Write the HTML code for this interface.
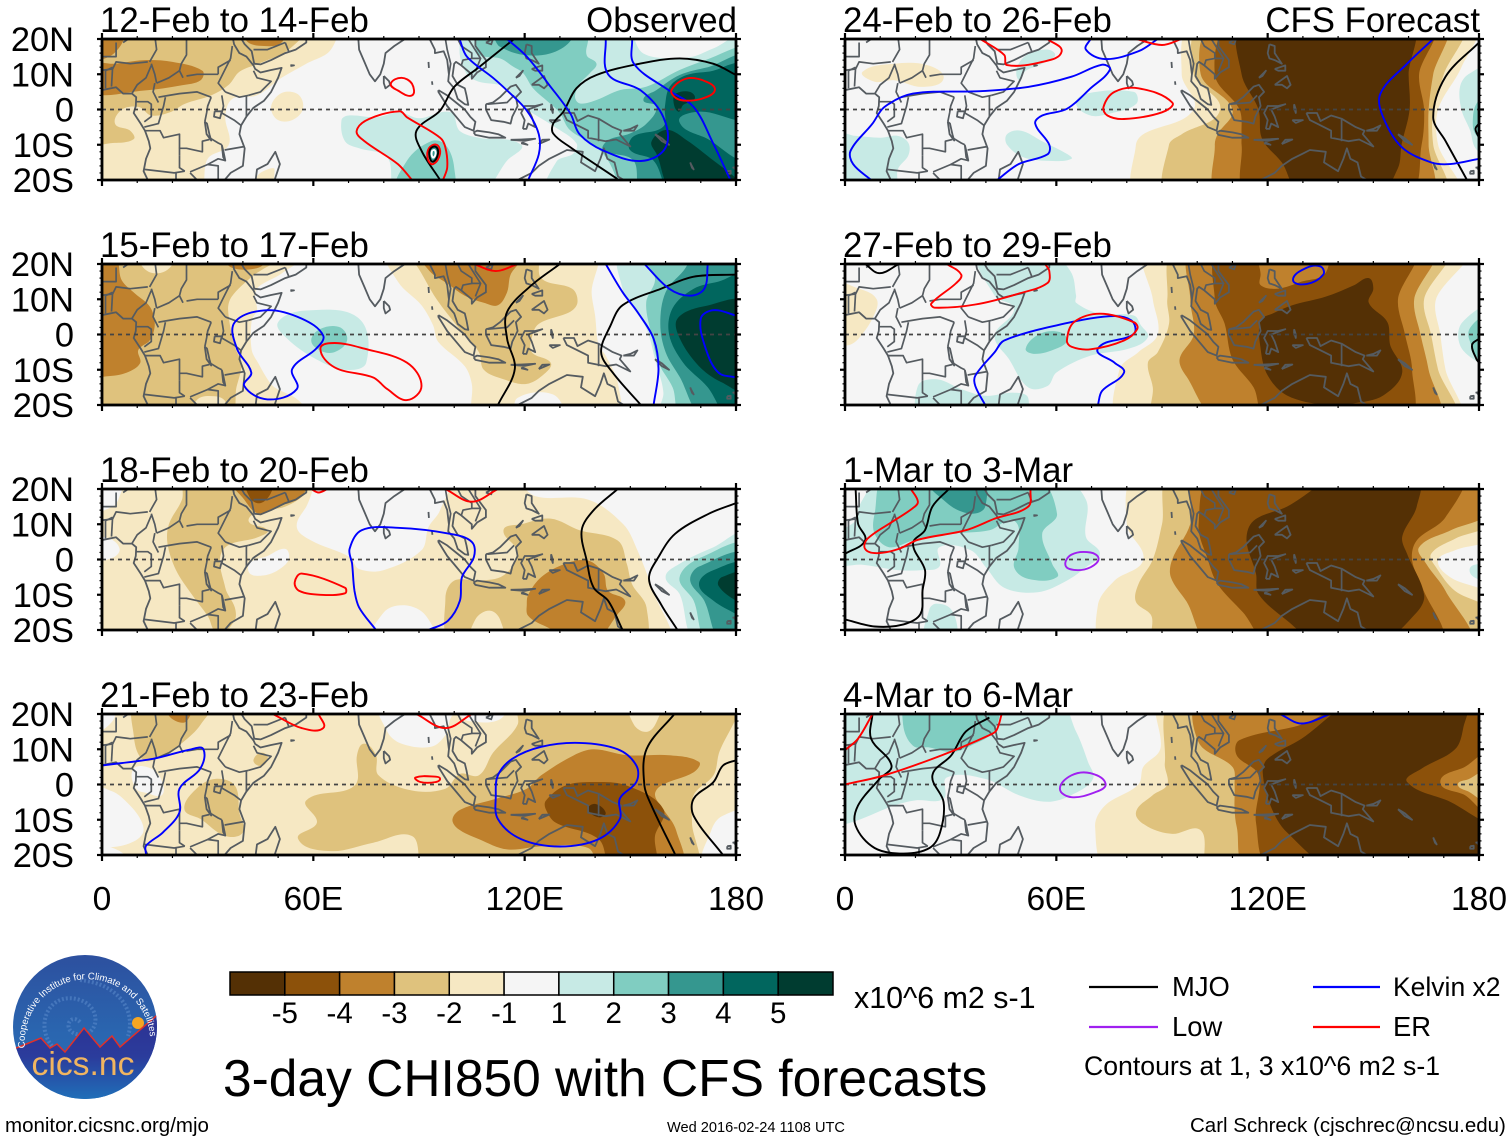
<!DOCTYPE html>
<html lang="en">
<head>
<meta charset="utf-8">
<title>3-day CHI850 with CFS forecasts</title>
<style>
html,body{margin:0;padding:0;background:#fff}
svg{display:block}
text{font-family:"Liberation Sans",Arial,sans-serif;fill:#000}
</style>
</head>
<body>
<svg id="chart" xmlns="http://www.w3.org/2000/svg" width="1510" height="1142" viewBox="0 0 1510 1142">
  <rect x="0" y="0" width="1510" height="1142" fill="#fff"/>
  <g id="panels"></g>
  <g id="colorbar"></g>

  <text x="854" y="1008" font-size="30.4">x10^6 m2 s-1</text>
  <text x="223" y="1096" font-size="51.5">3-day CHI850 with CFS forecasts</text>

  <g>
    <line x1="1089" y1="987" x2="1158" y2="987" stroke="#000" stroke-width="2.2"/>
    <text x="1172" y="996" font-size="27.4">MJO</text>
    <line x1="1313" y1="987" x2="1380" y2="987" stroke="#0000ff" stroke-width="2.2"/>
    <text x="1393" y="996" font-size="26.5">Kelvin x2</text>
    <line x1="1089" y1="1027" x2="1158" y2="1027" stroke="#a020f0" stroke-width="2.2"/>
    <text x="1172" y="1036" font-size="27.4">Low</text>
    <line x1="1313" y1="1027" x2="1380" y2="1027" stroke="#ff0000" stroke-width="2.2"/>
    <text x="1393" y="1036" font-size="27.4">ER</text>
    <text x="1084" y="1075" font-size="26.65">Contours at 1, 3 x10^6 m2 s-1</text>
  </g>

  <g>
    <defs>
      <clipPath id="logo-clip"><ellipse cx="85" cy="1027" rx="72" ry="72"/></clipPath>
      <linearGradient id="logo-sky" x1="0" y1="0" x2="0" y2="1">
        <stop offset="0" stop-color="#2d4f9e"/>
        <stop offset="0.55" stop-color="#2a66b0"/>
        <stop offset="1" stop-color="#2a70b8"/>
      </linearGradient>
      <linearGradient id="logo-land" x1="0" y1="0" x2="0" y2="1">
        <stop offset="0" stop-color="#2e3192"/>
        <stop offset="0.5" stop-color="#2b3c9c"/>
        <stop offset="1" stop-color="#1f72ba"/>
      </linearGradient>
      <path id="logo-ring" d="M 25 1048 A 62 62 0 1 1 150 1036"/>
    </defs>
    <g clip-path="url(#logo-clip)">
      <rect x="10" y="952" width="150" height="150" fill="url(#logo-sky)"/>
      <path d="M80 1022 C70 1012 62 1030 76 1034 C98 1040 104 1008 80 1000 C50 990 34 1024 52 1046 M80 980 C120 984 136 1012 128 1036" fill="none" stroke="#5f8fd0" stroke-width="4" stroke-dasharray="2 2" opacity="0.5"/>
      <circle cx="138" cy="1023" r="6" fill="#f5a623"/>
      <polygon points="10,1050 19,1047 41,1038 50,1048 57,1044 65,1052 84,1028 100,1047 112,1036 120,1047 155,1017 160,1012 160,1102 10,1102" fill="url(#logo-land)" stroke="#e0302a" stroke-width="1.5"/>
    </g>
    <text font-size="9.6" fill="#ffffff" style="fill:#fff"><textPath href="#logo-ring">Cooperative Institute for Climate and Satellites</textPath></text>
    <text x="83" y="1075" font-size="33.7" text-anchor="middle" style="fill:#f1b560">cics.nc</text>
  </g>

  <text x="5" y="1132" font-size="20.5">monitor.cicsnc.org/mjo</text>
  <text x="667" y="1132" font-size="14.6">Wed 2016-02-24 1108 UTC</text>
  <text x="1190" y="1132" font-size="20.5">Carl Schreck (cjschrec@ncsu.edu)</text>
</svg>

<script>
// ---- labels -------------------------------------------------------------
const panelTitles = ['12-Feb to 14-Feb','15-Feb to 17-Feb','18-Feb to 20-Feb','21-Feb to 23-Feb','24-Feb to 26-Feb','27-Feb to 29-Feb','1-Mar to 3-Mar','4-Mar to 6-Mar'];
const panelNotes = ['Observed','','','','CFS Forecast','','',''];
const latTicks = [20,10,0,-10,-20];
const latTickLabels = ['20N','10N','0','10S','20S'];
const lonTicks = [0,60,120,180];
const lonTickLabels = ['0','60E','120E','180'];
const colorbarLabels = ['-5','-4','-3','-2','-1','1','2','3','4','5'];
const levelColors = ['#543005','#8c510a','#bf812d','#dfc27d','#f6e8c3','#f5f5f5','#c7eae5','#80cdc1','#35978f','#01665e','#003c30'];

// ---- shaded CHI850 regions per panel: [level, [[lon,lat],...]] -----------
const fills1 = [
 [-1,[[-4,24],[66,24],[65,17],[58,13],[51,9],[44,4],[37,3],[35,-2],[36,-10],[30,-14],[27,-24],[-4,-24]]],
 [-1,[[48,0],[49,3],[52,5],[56,4],[57,0],[54,-3],[50,-3]]],
 [-1,[[43,-24],[44,-19],[47,-17],[49,-17],[47,-24]]],
 [-2,[[-4,24],[58,24],[53,17],[44.5,13],[39,10.7],[36,7],[31,4],[23.5,1.6],[19.3,-.8],[14,-1.7],[10.5,.7],[5.7,0],[3.7,-4],[8,-6],[9,-8.4],[3,-9.5],[-4,-9]]],
 [-3,[[-4,5],[12,5.4],[22.7,6.9],[28,8.3],[28.5,11],[20,13.5],[12,14],[3.7,13],[-4,12.5]]],
 [-3,[[-4,24],[6,24],[3.5,16],[-4,15]]],
 [-3,[[41,24],[41,19.5],[46,18],[51,19],[52,24]]],
 [1,[[104,24],[101.5,17],[103.6,10],[107,7.9],[114,6.5],[119.6,.8],[128.5,-4.9],[134.7,-9.6],[133.8,-12.5],[129,-14.8],[126.7,-24],[184,-24],[184,21],[173.5,17.3],[167.8,15],[160.3,14.5],[153.7,15.9],[151.3,19.7],[151,24]]],
 [1,[[68,-3],[70,-1.7],[78,-2.2],[84.5,-.8],[90,-2.5],[99,-.8],[101.5,-6],[107,-8],[119,-10],[115,-14.5],[107,-24],[84,-24],[81,-13.6],[73,-11],[69,-9]]],
 [2,[[107.3,24],[106,18],[107.3,15.4],[113,14.5],[116.8,12.1],[119.6,10.3],[122.4,6],[127.2,1.7],[130,-1],[132.8,-5.8],[139.5,-10],[143.3,-13.9],[146,-19.5],[147,-24],[184,-24],[184,19],[179.2,17.3],[172.6,14.5],[164,11.2],[154.6,6.5],[147,5.5],[140.4,2.7],[135.7,1.7],[134.3,3.6],[135.7,7.4],[138.5,10.3],[140.4,13],[137.6,15.4],[138,19.7],[138,24]]],
 [2,[[84,-24],[86.6,-14.5],[93.4,-9],[97.5,-10],[100,-16.5],[99,-24]]],
 [3,[[110,24],[111.6,19.7],[113,17.8],[119.6,15.5],[127.2,15.9],[132.8,19.2],[134,24]]],
 [3,[[184,14.5],[172,12],[164,9.8],[157.4,5.5],[153.7,2.7],[157.4,.8],[154.6,-4],[149.9,-6.8],[143.7,-8.7],[142.3,-11.5],[150.8,-14.4],[153.7,-24],[184,-24]]],
 [3,[[93,-11],[95,-10],[96,-12],[94.5,-15],[93,-14]]],
 [4,[[184,13.5],[179,13],[173.5,11],[166,9.8],[161.2,6.5],[159.8,.8],[159.3,-4.9],[150.8,-7.7],[149.9,-11.5],[156.5,-14.4],[162.2,-24],[184,-24]]],
 [3,[[163.9,-3.5],[169.7,-.6],[180,-3],[184,-4],[184,-15],[180,-13.9],[172.6,-8.7]]],
 [5,[[162.2,2.7],[163.1,4.6],[166.9,5],[168.3,3.1],[165,1.3],[163.6,-.6]]],
 [5,[[160.3,-5.8],[166,-8.7],[173.5,-14.4],[180,-19.5],[184,-24],[163,-24],[157.4,-12.5],[156,-9.1]]]
];
const fills2 = [
 [-1,[[-4,24],[58.5,24],[51,17.3],[44.4,13.5],[43.4,10.7],[44,7],[42.5,4],[42.5,-4.4],[44.4,-8.2],[47.2,-13],[49,-15],[55.7,-18.6],[59,-24],[-4,-24]]],
 [-2,[[-4,24],[54,24],[45.3,18.3],[42.5,16.4],[36.8,10.7],[35.8,6.9],[37.7,-3.5],[39.6,-8.2],[38.2,-14.9],[35.8,-24],[-4,-24]]],
 [-1,[[10.3,24],[11,20],[14,17.5],[18,18],[20.7,21],[21,24]]],
 [-1,[[26,-24],[27,-18.5],[32,-17.5],[35,-19],[35,-24]]],
 [-3,[[-4,24],[3.7,22],[5.6,15.4],[9.4,11.6],[13.6,7.9],[15,3.1],[13.6,-1.6],[10.3,-4.4],[10.8,-8.2],[6.5,-11],[.4,-12],[-4,-12.5]]],
 [-3,[[34,24],[35.5,20],[38,18.6],[43,18.6],[46,20],[47,24]]],
 [-1,[[81,24],[84,15],[90.7,8.3],[94,2.6],[95.4,-2],[103,-9],[105,-14],[106,-24],[116,-24],[118,-18],[128,-17],[134,-24],[146,-24],[146.5,-14],[143,-6],[141,-3],[140,5.4],[139,12],[139.6,24]]],
 [-2,[[85,24],[89,20],[95,10],[101.5,1.6],[107,-5],[108.4,-10],[114,-12.7],[120.6,-14],[126,-10.8],[127.4,-8],[122,-5],[122,-1],[124,3],[133,6.5],[135,9.2],[133.5,13],[124.7,16],[123,24]]],
 [-3,[[90,24],[93,18],[98,14.5],[103,11],[108.4,9],[112.4,8.3],[115,12],[116,17],[120,24]]],
 [1,[[50,3.5],[58,6.8],[73,4.5],[75,-8],[69,-10],[60.8,-7],[52.6,-1.2]]],
 [2,[[59.4,-1.7],[62,1.6],[67.6,2],[69.6,-1.7],[66,-5],[62,-4.6]]],
 [1,[[147.8,24],[148,12],[150.5,8],[154.6,1.6],[157,-7],[159.4,-16.5],[158.5,-24],[184,-24],[184,24]]],
 [2,[[153,24],[157,16],[154.5,9],[156,0],[158,-8],[162,-15],[165,-24],[184,-24],[184,24]]],
 [3,[[170,24],[165,18],[160,12],[158.5,3],[160,-5],[164,-12],[171,-24],[184,-24],[184,24]]],
 [4,[[184,17],[175,15],[168,13],[162,7.5],[161,0],[165,-8],[172,-15],[178,-24],[184,-24]]],
 [5,[[184,8.5],[171,8],[163.4,4.5],[164,-1],[169.5,-9],[176,-13.6],[184,-16]]]
];
const fills3 = [
 [-1,[[-4,24],[115,24],[123,18],[138,17],[148,10],[152,2.6],[156,-8],[160,-24],[-4,-24]]],
 [0,[[-4,24],[6,24],[5,18],[3,15],[-4,14]]],
 [0,[[-4,6],[2,6],[5,3],[3,.5],[-4,0]]],
 [0,[[63.5,24],[58,15],[55.3,9.2],[59.4,5.4],[70.3,.7],[73,-2.7],[80,-3],[90.7,2.6],[92.7,9.2],[96,14],[98,24]]],
 [0,[[42,-1],[47,1],[52,3],[53,0],[50,-3],[46,-4.5],[42,-4]]],
 [0,[[77,-24],[80,-15],[86,-13],[92,-16],[94,-24]]],
 [-2,[[24,24],[22.7,17],[19,10],[18.6,4.5],[21,-3],[25.4,-9.8],[30,-16],[33,-21],[37.6,-17.4],[37.7,-13.6],[35,-8],[34.3,2.6],[44.5,6.4],[47,8.3],[41.7,10.7],[44,13.5],[52,15],[58,19],[60,24]]],
 [-3,[[36.3,24],[40.4,17],[44.5,13],[50,15],[56.7,18],[58,24]]],
 [-4,[[41,24],[42,17.5],[45,16],[48,19],[48.5,24]]],
 [-2,[[100,-24],[97.5,-11],[100,-6],[107,-6],[114,-4.5],[118,2],[114,8.3],[119,10],[127.4,11.6],[135.6,8.3],[146.4,5.4],[149,-1.2],[150.5,-7],[154.6,-13.6],[153,-24]]],
 [-1,[[105,-24],[106,-17],[110,-14.5],[113,-17],[113.5,-24]]],
 [-3,[[120.6,-12.7],[121,-10],[124.7,-5],[131.5,-1.2],[138,-.3],[142.4,-4],[143.7,-8.9],[148.5,-11.7],[146.4,-15.5],[138.3,-24],[126,-19],[121,-16]]],
 [1,[[184,7.3],[173.6,3.5],[164,-1.2],[160,-5],[164,-9.8],[169,-24],[184,-24]]],
 [2,[[184,3.5],[171,1],[164,-5],[168,-11.7],[172.3,-24],[184,-24]]],
 [3,[[184,.7],[169.5,-2],[167,-6],[171,-11.7],[176,-24],[184,-24]]],
 [4,[[184,-1.7],[173.6,-3],[169.5,-7],[173.6,-11.7],[180,-15.5],[184,-18]]],
 [5,[[184,-4],[176,-5],[175,-7.4],[180,-11.7],[184,-13]]]
];
const fills4 = [
 [-1,[[-4,24],[184,24],[184,-24],[-4,-24]]],
 [0,[[-4,24],[3,24],[3,18],[-4,15]]],
 [0,[[-4,-1],[3,-2],[7,-5],[11,-10],[11.5,-14],[7,-17],[0,-18],[-4,-18]]],
 [0,[[9,4.5],[14,4.5],[17,1],[17,-3],[13,-2.5],[9.5,-1]]],
 [0,[[-4,-24],[-4,-17.5],[3,-18],[7.5,-21],[8,-24]]],
 [0,[[79,24],[81,15],[85,11.6],[93.4,10.7],[97.5,14],[100,20],[104,18],[113,18.5],[115,24]]],
 [0,[[184,-8],[176,-9],[173,-13],[171,-24],[184,-24]]],
 [-2,[[10,24],[9,14],[11.7,7],[17,8],[23,12],[28,17],[31,24]]],
 [-2,[[23.4,-7],[26.8,-1.2],[32.2,1.6],[37.7,-.3],[39,-8],[40,-13.6],[35,-14.6],[28,-9.8]]],
 [-2,[[43,7],[45,9],[47,8],[46,5.5],[44,5.5]]],
 [-2,[[58,-4.5],[71.7,-.3],[72.4,8.3],[74.4,11.6],[77.8,8.3],[78.5,2.6],[88,-1.7],[97.5,-1.2],[101.6,3],[107,2.6],[111,9],[118,17],[118,24],[179,24],[175,8.3],[173.6,2.6],[168,-3],[167.5,-10.8],[168,-24],[92,-24],[88,-14.6],[77,-16.5],[65,-18.9],[55.7,-15.5],[61,-10.8]]],
 [-1,[[150,24],[151,17],[155,15],[158,19],[159,24]]],
 [-3,[[18,24],[19,19.5],[23,17.5],[25,19.5],[26,24]]],
 [-3,[[99.5,-9.8],[102,-7],[112,-4],[120.6,-1.2],[124.7,2.6],[134,8.3],[139.6,10],[149,8.3],[161,8.3],[169.5,6.4],[168,3.5],[158.7,-.3],[157,-3],[159.4,-7],[163,-13],[164,-24],[142,-24],[138,-18],[125,-17.5],[115,-18.4],[107,-15.5],[101,-12.5]]],
 [-4,[[126,-4.6],[131.5,-.3],[139.6,.7],[149,-.3],[159.4,-7],[157,-14.6],[156.6,-24],[145,-24],[141,-15.5],[128.8,-10.8],[126,-7]]],
 [-5,[[138,-7],[140,-5.5],[143,-8],[141,-9.3]]]
];
const fills5 = [
 [1,[[-4,-7],[3,-7.5],[10,-8],[15,-7.5],[18,-9.5],[18,-13],[15,-17],[14,-24],[-4,-24]]],
 [1,[[46,-7],[50,-6],[56,-9],[63,-12.6],[64.3,-14],[59,-14.6],[50.7,-13.6],[46,-10]]],
 [1,[[65.6,1.6],[68.4,4.5],[82,5],[82.7,1.6],[75,-1.2],[69.7,-1.7]]],
 [1,[[49.3,13],[53.4,16.4],[59.5,16],[56,13],[51.3,11],[49.3,8.4]]],
 [-1,[[5,10.7],[14,13],[23.4,12.6],[28,8.8],[22,6.4],[14,8.3],[8.4,7.9]]],
 [-1,[[99,24],[95.6,10],[99,0],[84.7,-7],[82.6,-10],[83.3,-24],[173.5,-24],[168.4,-10],[168.4,0],[175,12],[178.6,24]]],
 [-2,[[101.7,24],[99,10],[106.5,0],[95.6,-7],[92,-10],[92.2,-24],[169.8,-24],[167,-10],[167,0],[170,10],[174.6,24]]],
 [-3,[[105,24],[101,10],[110,0],[105.8,-7],[105,-10],[106.5,-24],[165.7,-24],[165.7,-10],[165.7,0],[167,10],[169.8,24]]],
 [-4,[[110,24],[105,10],[112,0],[112.6,-7],[112.6,-10],[114.6,-24],[159.6,-24],[163.7,-10],[164.4,0],[163,10],[166.4,24]]],
 [-5,[[113.3,24],[112.6,10],[117.4,0],[118,-7],[119.4,-10],[124,-15],[129.6,-24],[151.4,-24],[157,-16.6],[158,-10],[160.3,0],[160,10],[160.3,24]]],
 [1,[[184,12],[177,10],[174.6,6.4],[175,0],[177.5,-6],[179,-11],[184,-15]]],
 [2,[[184,6],[179.5,2],[178.3,-2],[179,-7],[184,-10]]]
];
const fills6 = [
 [-1,[[-4,14],[4,13],[9,10],[8,5],[4,-1],[1,-3],[-4,-2.5]]],
 [1,[[38.4,24],[42.5,11],[48,7.3],[42.5,-.3],[46.6,-7],[52,-15],[57.5,-14.6],[60,-10.8],[69.7,-6],[80.6,-4],[86,-.8],[84,2.6],[82,5.4],[72,6],[65.6,9],[65.6,11],[64,18],[57,24]]],
 [1,[[20.7,-14.6],[26,-12.7],[33,-15.5],[39.8,-17.4],[48,-16.5],[52,-18],[50,-24],[22,-24]]],
 [2,[[51.3,-4],[55.4,.2],[60.9,.7],[63,-1.7],[60,-4],[54,-5.5]]],
 [1,[[184,7.3],[175.3,3.5],[174.6,-3],[180,-8],[184,-9]]],
 [2,[[184,5],[177.3,1.6],[178.6,-5],[180,-7],[184,-8]]],
 [-1,[[86,24],[87.4,10],[88.8,0],[83.3,-5],[77.9,-10],[78.6,-24],[173.9,-24],[170.5,-10],[169,0],[167.8,10],[176,24]]],
 [-2,[[94.2,24],[91.5,10],[92,3],[88.8,-5],[86,-8],[87.4,-15],[88,-24],[172.5,-24],[168.4,-10],[166.4,0],[164.4,10],[170.5,24]]],
 [-3,[[99,24],[98,10],[99,0],[95,-7],[97,-12],[106.5,-24],[167.8,-24],[165.7,-10],[163.4,0],[161.6,10],[166.4,24]]],
 [-4,[[107,24],[105,10],[107.8,3],[110,-7],[116,-15],[120,-24],[159.6,-24],[161,-10],[159,0],[157,10],[161,24]]],
 [-3,[[118,24],[118,17],[118,14],[122.8,13],[129.6,15],[136.4,17.4],[136,24]]],
 [-5,[[148.7,16],[144.6,14],[136.4,10.7],[127,8.3],[121.5,6],[118,4],[118,-4],[120,-11.6],[125.5,-17.3],[136.4,-20],[144.6,-19.5],[152.8,-17.3],[158.2,-10.8],[154.8,-3],[154,3.5],[148.7,9],[150,13]]]
];
const fills7 = [
 [1,[[6,24],[6.4,20],[4,15],[3,11],[-4,6],[-4,-1],[5,-1.5],[15,-3],[22,-3],[26.8,-2],[26.8,3.5],[35.7,2.6],[40,-2.2],[45.2,-8],[54.7,-9.3],[63,-6],[68.4,-2.2],[72.4,1.6],[68.4,6.4],[68.4,17],[60,24]]],
 [1,[[23,-24],[24,-14],[26,-12.5],[30,-14],[32,-20],[31,-24]]],
 [1,[[184,-2],[177.3,-3],[184,-6]]],
 [2,[[12,24],[8.4,13],[8.4,7.3],[12.5,3.5],[19.3,5.4],[30,7.3],[41,8.3],[48,11],[49.3,3.5],[48,-2.2],[52,-5.5],[60.2,-5],[58.8,-1.2],[56,7.3],[60.2,13],[53.4,24]]],
 [3,[[23.4,24],[29,16],[35.7,13],[39.8,15],[38.4,24]]],
 [-1,[[83.3,24],[80,10],[84.7,0],[76.5,-6],[71.8,-13],[73.8,-24],[184,-24],[184,-11],[171.8,-5],[168.4,-.3],[173.2,2.6],[184,7],[184,24]]],
 [-2,[[92.9,24],[90,10],[87.4,0],[83.3,-7],[82.6,-12],[87,-16],[88,-24],[184,-24],[184,-15],[173.2,-8.9],[167.8,-2.2],[166.4,1.6],[173.2,5.9],[184,11],[184,24]]],
 [-3,[[100,24],[98,10],[92.9,0],[92.5,-5],[97,-12],[104.4,-24],[176.6,-24],[170.5,-8.9],[165,-1.2],[163,3.5],[172,8.3],[184,14],[184,24]]],
 [-4,[[105,24],[100.4,10],[103,0],[105.8,-7],[113,-15],[121,-24],[168.4,-24],[164,-8],[161,-.3],[162.3,5.4],[170.5,12],[174.6,24]]],
 [-5,[[141,24],[125.5,15],[116,11],[114,5.4],[116.7,-4],[117.4,-9.8],[125.5,-17.3],[135,-24],[151.4,-24],[162.3,-15],[164.4,-10],[159.6,1.6],[158.2,6.4],[162.3,15],[162.3,24]]]
];
const fills8 = [
 [1,[[-4,24],[60,24],[65.6,15],[69,6.4],[70.4,1.6],[64.3,-3],[57.5,-4.9],[49.3,-3],[39.8,1.6],[28.9,2],[28,-4],[20,-4.5],[13.9,-6],[1.6,-10.8],[-4,-11]]],
 [2,[[18,24],[16.5,17],[19.3,11],[24,10.5],[30.2,9.2],[35.7,11],[42.5,15.5],[42.5,24]]],
 [-1,[[90,24],[89.5,10],[84.7,5],[83.3,0],[73.8,-6],[71,-12],[75.2,-24],[184,-24],[184,24]]],
 [-2,[[94,24],[90.8,6],[91.5,0],[87.4,-3],[82.6,-8],[86,-12],[92.9,-14],[101,-13],[103.8,-24],[184,-24],[184,24]]],
 [-3,[[101,24],[100.4,12],[110,5],[110.6,0],[110.6,-7],[111.2,-12],[114.6,-24],[184,-24],[184,24]]],
 [-4,[[146,24],[129.6,17],[112,12.6],[111.2,8.3],[117.4,2.6],[116.7,-10.8],[121.5,-24],[184,-24],[184,24]]],
 [-5,[[146,24],[129.6,13],[120,7.3],[118.6,3.5],[120.8,-6],[125.5,-13.6],[139.8,-24],[184,-24],[184,-12],[180,-9.8],[172,-5],[159.6,.7],[163.7,4.5],[173.2,10],[175.5,16],[176,24]]],
 [-3,[[184,8.8],[176,5],[169,.7],[176,-3],[184,-8]]],
 [-2,[[184,4],[177,1.5],[174,0],[177,-2],[184,-5]]]
];
const panelFills = [fills1,fills2,fills3,fills4,fills5,fills6,fills7,fills8];

// ---- wave contours per panel: [type, closed(0/1), [[lon,lat],...]] -------
const lines1 = [
 ['mjo',0,[[117,20],[107,12],[100,6.4],[96,-.3],[89.3,-6],[90.7,-11.7],[96,-20]]],
 ['mjo',0,[[180,9.8],[173.5,13],[164,14.5],[152.7,13],[140.4,9.8],[134.7,6],[131,-.6],[128.1,-4],[128.1,-6.8],[132.8,-10.6],[146,-19.5],[146.5,-20]]],
 ['kelvin',0,[[101.5,20],[103.6,15],[111,9],[115,5.4],[120.6,-.3],[124,-7],[124,-12.7],[121,-20]]],
 ['kelvin',0,[[115,20],[120.6,15],[127.4,6.4],[133,-1.2],[135.6,-7],[142.4,-11.7],[153,-14.6],[160,-10.8],[159.4,-2.2],[153,5.4],[143.7,10],[143,20]]],
 ['kelvin',0,[[150.5,20],[151,13],[161,5.4],[168,.7],[173.6,-9.8],[178.4,-20]]],
 ['er',1,[[82,7.3],[85,9],[88,7.3],[88,4],[84,5.4]]],
 ['er',0,[[88,-20],[84,-15.5],[74.4,-8.9],[72.3,-6],[75.8,-2.7],[84.5,-.5],[86.6,-2.2],[96,-8],[97.5,-10.8],[98,-16.5],[96.8,-20]]],
 ['er',1,[[161.7,5.5],[166,8.8],[171.6,7.9],[174,5.5],[170.7,3.2],[166,2.5],[163,3.2]]],
 ['er',1,[[92.8,-11],[95,-10],[96,-12.5],[94,-15.5],[92.5,-14]]],
 ['mjo',1,[[93.2,-11.2],[94.8,-10.6],[95.4,-12.5],[94,-14.8],[93,-13.5]]],
 ['center',1,[[93.7,-11.8],[94.5,-11.6],[94.6,-13],[93.9,-13.6]]]
];
const lines2 = [
 ['mjo',0,[[130,20],[122,14],[115,6.4],[115,-1.2],[117.2,-9.8],[112.4,-20]]],
 ['mjo',0,[[180,17],[168,16.4],[158.7,13],[147.8,8.3],[144.4,2.6],[141.7,-5],[145,-10.8],[153,-20]]],
 ['kelvin',1,[[37.7,3.5],[47,6.9],[56.7,4.5],[62.8,-.3],[60.8,-4],[54,-9.8],[55.3,-15.5],[47,-18.4],[40.4,-14.6],[42.4,-10.8],[38.3,-4]]],
 ['kelvin',0,[[143,20],[147.8,12],[152,6.4],[156.6,-1.2],[158,-9.8],[156.6,-20]]],
 ['kelvin',0,[[154,20],[161,13],[166.8,11],[171,13],[172,20]]],
 ['kelvin',0,[[180,5.4],[173.6,6.9],[170,4.5],[171.4,-4],[175,-10.8],[180,-12.2]]],
 ['er',0,[[105.6,20],[111.8,18],[118,20]]],
 ['er',1,[[62,-4],[66,-2.4],[74.4,-4],[86.6,-8],[90.7,-14.6],[86.6,-18.6],[81,-15.5],[77,-12.2],[66,-9.3]]]
];
const lines3 = [
 ['mjo',0,[[146.4,20],[139.6,14],[136.2,8.3],[137.6,-.3],[139.6,-8],[143.7,-11.7],[147.8,-20]]],
 ['mjo',0,[[180,16],[172.3,13],[162.7,7.3],[158,.7],[155.3,-5.5],[158.7,-12.7],[163.4,-20]]],
 ['kelvin',0,[[77.8,-20],[73,-13.6],[71.7,-8.9],[71,-1.2],[70.3,3],[73.7,8.3],[84,9],[98.8,7.3],[105,5],[105.6,.7],[102.2,-5],[101.6,-11.7],[98.2,-17.4],[92.7,-20]]],
 ['er',0,[[59.4,20],[61.5,19],[64,20]]],
 ['er',0,[[97.5,20],[105,16.4],[112.4,20]]],
 ['er',1,[[54.7,-6.5],[56.7,-4],[69,-8],[69,-9.6],[62,-10],[56,-8.9]]]
];
const lines4 = [
 ['mjo',0,[[162.5,20],[154.6,10],[154,-.3],[156,-6],[162.8,-20]]],
 ['mjo',0,[[180,6.9],[176.3,5.4],[173.6,.7],[168,-4],[168,-8.9],[176.3,-20]]],
 ['kelvin',0,[[0,5.4],[14.5,7.3],[25.4,10],[28.8,10],[27.9,4.5],[22,-1.2],[22,-7.9],[17.3,-13.6],[12.5,-17.4],[12.5,-19.8]]],
 ['kelvin',1,[[112.4,2.6],[116.5,7.3],[124.7,10.7],[135.6,11.8],[146.4,10],[151.7,5.4],[151.7,.7],[147,-4],[147,-9.8],[141,-15.5],[130,-17.6],[119,-15.5],[112.4,-9.8],[111.8,-3.1]]],
 ['er',0,[[48.5,20],[56.7,16],[62.8,16],[61.5,20]]],
 ['er',0,[[89.3,20],[97.5,16],[105,20]]],
 ['er',1,[[89,2],[94.8,2.2],[96,1.6],[94.8,.7],[90.4,.7]]]
];
const lines5 = [
 ['mjo',0,[[180,19],[170.5,9.3],[167,-2.2],[170.5,-8.9],[176.6,-20]]],
 ['mjo',0,[[180,-4],[179,-5.5],[180,-8]]],
 ['kelvin',0,[[7.4,-20],[2.3,-15.5],[1.6,-11.7],[7.8,-4],[11.2,.7],[19.3,4.5],[38.4,5.2],[52,6.4],[64.3,9.3],[73,12.7],[75.2,11.3],[69.7,6],[63,.2],[56,-1.7],[54,-4],[58,-10],[57.5,-12.7],[49.3,-15.5],[43.2,-20]]],
 ['kelvin',0,[[69.7,20],[68.4,17],[73.8,14.3],[83.3,16.5],[88.8,20]]],
 ['kelvin',0,[[167,20],[159.6,13],[152,4.5],[152.8,-2.2],[158.2,-10.8],[166.4,-15],[171.8,-15.5],[180,-14]]],
 ['er',0,[[38.4,20],[45.2,15.5],[46,12.6],[56,13.5],[61.5,16.4],[57.5,20]]],
 ['er',0,[[82.6,20],[90,18.3],[95.6,20]]],
 ['er',1,[[73.4,.7],[76.5,5],[83.3,6],[92.9,2],[90,-.8],[79.2,-2.7],[74.5,-1.7]]]
];
const lines6 = [
 ['mjo',0,[[5.7,20],[9.8,17.4],[15.3,20]]],
 ['mjo',0,[[180,-1.2],[178,-3],[179.3,-7],[180,-8]]],
 ['kelvin',0,[[71.8,-20],[73,-16],[79.2,-10.8],[76.5,-8],[71.8,-4],[82,.2],[81.3,4],[75.2,5.2],[60.2,2.6],[45.2,-1.7],[42.5,-5],[37,-11.7],[37,-14.6],[39.8,-20]]],
 ['kelvin',1,[[127.2,15.5],[131,18.9],[135,19.3],[135.8,17],[131,14.3]]],
 ['er',0,[[28.9,20],[33,17],[31.6,14.6],[24.5,8.8],[25.5,7.6],[37,8.5],[49.3,11.6],[57.5,14.6],[58,18],[56.8,20]]],
 ['er',1,[[63,-1.7],[65,3.5],[72.4,5.9],[82,3.5],[83,1.6],[79.2,-1.7],[69.7,-4.2],[64.3,-3.5]]]
];
const lines7 = [
 ['mjo',0,[[29.5,20],[24.8,15],[22.7,8.3],[19.3,4.5],[22.7,-3],[22,-8.9],[21.4,-15.5],[16.6,-18.4],[8.4,-19],[0,-17]]],
 ['mjo',0,[[0,1.6],[5.7,5.4],[3.7,10.2],[3,20]]],
 ['er',0,[[18.7,20],[20.7,16.4],[19.3,14.6],[13.9,11],[6.4,5.9],[5.7,3],[9,1.8],[15.3,3],[20.7,5.6],[34.3,8.3],[42.5,11.6],[52,15],[52.7,20]]],
 ['low',1,[[62.6,-1.7],[64.3,1.4],[69.7,2],[72,.2],[69.7,-2.2],[65.6,-3]]]
];
const lines8 = [
 ['mjo',0,[[7.8,20],[7.4,13],[13.2,5.4],[9.8,1.6],[3.7,-6],[3,-11.7],[8.4,-18],[16.6,-19.6],[24,-18],[27,-13.6],[28,-5],[24.8,2.6],[30.2,8.3],[34.3,15],[41,19]]],
 ['er',0,[[7.8,20],[3.7,13],[0,9.7]]],
 ['er',0,[[0,0],[11.2,2.6],[27.5,8.3],[41,14],[43,15.4],[44.5,20]]],
 ['low',1,[[61,-1.2],[64.3,2.6],[69.7,3.2],[74,.2],[71,-2.2],[64.3,-3.6]]],
 ['kelvin',0,[[123.5,20],[129.6,17.3],[137.8,20]]]
];
const panelLines = [lines1,lines2,lines3,lines4,lines5,lines6,lines7,lines8];

// ---- map outlines, lon/lat ----------------------------------------------
const coastlines = [
 [[0,5.5],[4,6.3],[6,4.5],[8.5,4.5],[9.7,3.5],[9.6,1],[9,-1],[11,-4],[12.2,-6],[13.3,-9],[13.7,-11],[12.5,-14],[11.8,-17.5],[13,-20]],
 [[34.8,-20],[36.5,-18],[40,-16],[40.5,-11],[39,-7],[39.5,-4.5],[41,-2],[43,.5],[46,2.5],[48,5],[50,9],[51,11.8],[48,11.2],[45,10.5],[43.5,11.5],[43,12.5],[41,15],[39,16],[37.5,18.5],[37,21]],
 [[39,21],[40.5,18.5],[42.5,16.5],[43.2,13],[45,12.8],[48,14],[52,16],[55,17],[58,19],[58,21]],
 [[72.7,21],[73,17],[74.5,13.5],[76,10],[77.5,8],[79,10],[80,13],[80.5,16],[83,18],[86,20],[87,21]],
 [[80,9.5],[81.5,8],[81.8,7],[80.5,6],[80,7.5],[80,9.5]],
 [[93,20],[94.5,17],[94.5,16],[97,16.5],[98,14],[98.5,10],[98.3,8],[100,6],[101,3],[103,1.5],[104,1.3],[103.5,4],[103,6],[101,7],[99.5,9.5],[100,13],[100.5,13.5],[102,12.5],[105,10],[105,8.7],[106.5,10.5],[109,12],[109,14],[106,18],[106,20],[107,21]],
 [[95.5,5.5],[98,4],[100.5,2],[103,0],[104.5,-2],[106,-3.5],[105.5,-6],[103,-5],[100.5,-2],[98,1],[95.5,5],[95.5,5.5]],
 [[105.5,-6.5],[106.5,-6],[110,-6.5],[112.5,-7],[114.5,-8],[110,-8],[106,-7.2],[105.5,-6.5]],
 [[109,1.5],[111,2],[113,3.5],[116,6.5],[117.5,7],[119,5],[117.5,3.5],[118,1],[116.5,-2],[116,-4],[114,-3.5],[110.5,-3],[109,0],[109,1.5]],
 [[119.5,-5.5],[120,-3],[119,-1],[120,1],[123,1],[125,1.5],[121,0],[122,-2],[123,-5],[121,-4],[120.5,-5.5],[119.5,-5.5]],
 [[120.5,18.5],[122,18],[122,16],[124,13],[122,14],[120.5,14.5],[120,16],[120.5,18.5]],
 [[122,7],[125.5,9.5],[126.5,7],[125.5,6],[124,7],[122,7]],
 [[122,11.5],[123,11],[125,11],[125,12.5],[123.5,12],[122,11.5]],
 [[117.5,9],[119.5,11],[118.5,9.5],[117.5,9]],
 [[131,-1],[134,-1],[135,-3.3],[138,-1.7],[141,-2.6],[145,-5],[147.5,-6],[147,-7],[150,-10.5],[146,-8.5],[143,-9],[138,-8],[138,-6],[134,-4],[132,-3],[131,-1]],
 [[148,-6],[150,-5.5],[152,-4.5],[151,-6],[148,-6]],
 [[127.5,1.5],[128,0],[128,-1],[127.5,.5],[127.5,1.5]],
 [[127,-3],[130,-3],[128,-3.8],[127,-3]],
 [[124,-9.8],[127,-8.5],[125,-8.6],[124,-9.8]],
 [[116,-8.6],[119,-8.5],[123,-8.3],[120,-8.9],[116,-8.6]],
 [[119,-9.6],[120.8,-10],[119.5,-9.4],[119,-9.6]],
 [[113,-21],[117,-20.5],[122,-18],[124,-16],[127,-14],[130,-12.5],[132,-11.5],[136.5,-12],[136,-15],[140,-17.5],[141.5,-14],[142.5,-11],[143.5,-14],[145.5,-15],[146.5,-19],[149,-20.5],[150,-22]],
 [[43.5,-21],[44,-17],[47,-15.5],[49.2,-12],[50.5,-15.5],[49,-20],[48.5,-22]],
 [[53.5,12.6],[54.5,12.5],[53.5,12.3]],
 [[92.7,13.5],[92.8,11.8]],
 [[93.7,8],[93.8,7]],
 [[157,-7],[159,-8.2],[161,-10],[159,-9],[157,-7]],
 [[167,-15],[167.5,-16.5],[168,-17],[167.2,-15.5],[167,-15]],
 [[177.5,-17.5],[178.5,-17.4],[178.5,-18.2],[177.5,-18.2],[177.5,-17.5]],
 [[179,-16.5],[180,-16.3],[179.5,-17]],
 [[109,19],[111,20],[110.5,18.5],[109,19]],
 [[32,-.5],[34,-.5],[33.5,-2.5],[31.8,-2],[32,-.5]],
 [[29.2,-3.5],[29.7,-7],[31,-8.8],[30.5,-7],[29.8,-4],[29.2,-3.5]],
 [[34,-10],[34.5,-12],[35,-14.5],[34.4,-13.5],[34,-10]]
];
const borders = [
 [[3,11.5],[4,13.5],[8,13],[13,13.5]],[[15,21],[15.5,17],[13.5,13.5]],[[24,21],[24,15.5],[22.5,13],[22,11],[23,9]],
 [[15.5,7.5],[19,9],[22,11]],[[8.5,4.5],[10,7],[12.5,9],[14,12.5]],[[14,13],[15,10],[15.5,7.5]],[[15,7.5],[14.5,5],[16,2]],
 [[16,3.5],[19,4],[22,4.5],[27,5],[31,3.5]],[[37,18],[36.5,14.5],[34.5,10.5],[33,7.5],[35,5]],[[35,5],[39,3.5],[41.5,4]],
 [[41.5,4],[45,5],[48,8],[44,9],[43,11]],[[41,4],[41,-2]],[[34,4],[34.5,1],[34,-1]],[[34,-1],[37.5,-3],[39.5,-4.5]],
 [[31,3.5],[30,1],[29.7,-1],[29.2,-3.5]],[[30.5,-8],[33,-9.5],[34,-10]],[[34.8,-11.5],[40.5,-10.5]],
 [[30.5,-8.5],[28.5,-9],[28.5,-12],[24,-11],[22,-11],[22,-13]],[[22,-13],[22,-16.5],[23.5,-17.5]],[[12,-17],[20.5,-18],[23.5,-17.5]],
 [[12,-6],[16.5,-6],[17.5,-8],[22,-7],[22,-11]],[[25,-17.7],[30,-15.6],[33,-16],[33,-20]],[[30,-15.6],[33,-14],[35,-14.5]],[[21,-18],[21,-21]],[[25,-18],[27,-20]],
 [[9.5,2.2],[13,2.2],[14,1.5],[14,-2],[12,-3.5]],[[12,-5],[16,-4],[17.5,1],[18,3.5]],[[6,19],[12,23]],[[4,19],[4,15],[1,15]],
 [[1,6],[1,11],[3,12]],[[2.7,6.5],[3,12]],[[24,9.5],[27,10],[33,10]],[[33,10],[33,12],[36.5,14]],[[52,19],[53,16.5]],[[43,17],[47,17],[52,19]],
 [[97.5,20],[98,17],[99,13],[98.5,10]],[[101,20],[102,18],[105,16],[105,14.5],[102.5,14],[102,12.5]],[[104,20],[107.5,14.5],[106,10.8]],
 [[105,14.5],[107.5,14.5]],[[109.5,1.5],[115,2],[117,4]],[[141,-2.6],[141,-9]],[[-1,11],[3,11.5]],[[-1,15],[1,15]]
];

// ---- layout & axis functions --------------------------------------------
const NS = 'http://www.w3.org/2000/svg';
const panelCols = [102,845];
const panelTop0 = 39, panelStepY = 225, panelW = 634, panelH = 141;
const lineColors = {mjo:'#000000',kelvin:'#0000ff',er:'#ff0000',low:'#a020f0',center:'#ffffff'};
const lonX = (lon,x0) => x0 + lon/180*panelW;
const latY = (lat,y0) => y0 + (20-lat)/40*panelH;

function mk(tag,attrs,parent,text){
  const el=document.createElementNS(NS,tag);
  for(const k in attrs) el.setAttribute(k,attrs[k]);
  if(text!==undefined) el.textContent=text;
  parent.appendChild(el);
  return el;
}
// smooth path through lon/lat vertices; tangent scaled to the local segment
function smoothPath(pts,closed,fx,fy){
  const P=pts.map(p=>[fx(p[0]),fy(p[1])]);
  const n=P.length;
  const at=i=>closed?P[(i+n)%n]:P[Math.max(0,Math.min(n-1,i))];
  const dirAt=i=>{const a=at(i-1),b=at(i+1);const dx=b[0]-a[0],dy=b[1]-a[1];const l=Math.hypot(dx,dy)||1;return[dx/l,dy/l];};
  let d='M'+P[0][0].toFixed(1)+' '+P[0][1].toFixed(1);
  const segs=closed?n:n-1;
  for(let i=0;i<segs;i++){
    const a=at(i),b=at(i+1),len=Math.hypot(b[0]-a[0],b[1]-a[1]);
    const da=dirAt(i),db=dirAt(i+1);
    d+=' C'+(a[0]+da[0]*len/3).toFixed(1)+' '+(a[1]+da[1]*len/3).toFixed(1)+' '+(b[0]-db[0]*len/3).toFixed(1)+' '+(b[1]-db[1]*len/3).toFixed(1)+' '+b[0].toFixed(1)+' '+b[1].toFixed(1);
  }
  return d+(closed?' Z':'');
}
function straightPath(pts,fx,fy){
  return pts.map((p,i)=>(i?'L':'M')+fx(p[0]).toFixed(1)+' '+fy(p[1]).toFixed(1)).join(' ');
}

const panelsG=document.getElementById('panels');
panelTitles.forEach((title,idx)=>{
  const col=idx<4?0:1, row=idx%4;
  const x0=panelCols[col], y0=panelTop0+row*panelStepY;
  const fx=lon=>lonX(lon,x0), fy=lat=>latY(lat,y0);

  const g=mk('g',{},panelsG);
  
  

  const clip=mk('clipPath',{id:'clip-'+idx},g);
  mk('rect',{x:x0,y:y0,width:panelW,height:panelH},clip);

  const plot=mk('g',{'clip-path':'url(#clip-'+idx+')'},g);
  
  

  const bg=mk('rect',{x:x0,y:y0,width:panelW,height:panelH,fill:levelColors[5]},plot);
  
  

  panelFills[idx].forEach(f=>{
    const el=mk('path',{d:smoothPath(f[1],true,fx,fy),fill:levelColors[f[0]+5],stroke:'none'},plot);
    
    
  });

  coastlines.forEach(c=>{
    const el=mk('path',{d:straightPath(c,fx,fy),fill:'none',stroke:'#555b60','stroke-width':1.8,'stroke-linejoin':'round'},plot);
    
    
  });
  borders.forEach(c=>{
    const el=mk('path',{d:straightPath(c,fx,fy),fill:'none',stroke:'#555b60','stroke-width':1.7,'stroke-linejoin':'round'},plot);
    
    
  });

  const eq=mk('line',{x1:x0,x2:x0+panelW,y1:fy(0),y2:fy(0),stroke:'#444','stroke-width':1.7,'stroke-dasharray':'4 4'},plot);
  
  

  panelLines[idx].forEach(l=>{
    const el=mk('path',{d:smoothPath(l[2],!!l[1],fx,fy),fill:'none',stroke:lineColors[l[0]],'stroke-width':1.9,'stroke-linejoin':'round'},plot);
    
    
  });

  const frame=mk('rect',{x:x0,y:y0,width:panelW,height:panelH,fill:'none',stroke:'#000','stroke-width':2.8},g);
  
  

  // ticks
  const tickG=mk('g',{stroke:'#000'},g);
  
  
  for(let lon=0;lon<=180;lon+=10){
    const major=lonTicks.includes(lon), len=major?6:3, w=major?2.2:1.2, X=fx(lon);
    mk('line',{x1:X,x2:X,y1:y0,y2:y0-len,'stroke-width':w},tickG);
    mk('line',{x1:X,x2:X,y1:y0+panelH,y2:y0+panelH+len,'stroke-width':w},tickG);
  }
  for(let lat=-20;lat<=20;lat+=2){
    const major=lat%10===0, len=major?5:2.5, w=major?2.2:1.2, Y=fy(lat);
    mk('line',{x1:x0,x2:x0-len,y1:Y,y2:Y,'stroke-width':w},tickG);
    mk('line',{x1:x0+panelW,x2:x0+panelW+len,y1:Y,y2:Y,'stroke-width':w},tickG);
  }

  const t=mk('text',{x:x0-2,y:y0-7,'font-size':34.8},g,title);
  
  
  if(panelNotes[idx]){
    const n=mk('text',{x:x0+panelW+1,y:y0-7,'font-size':34.8,'text-anchor':'end'},g,panelNotes[idx]);
    
    
  }
  if(col===0){
    latTicks.forEach((lat,i)=>{
      const el=mk('text',{x:74,y:fy(lat)+12,'font-size':34.4,'text-anchor':'end'},g,latTickLabels[i]);
      
      
    });
  }
  if(row===3){
    lonTicks.forEach((lon,i)=>{
      const el=mk('text',{x:fx(lon),y:910,'font-size':33.6,'text-anchor':'middle'},g,lonTickLabels[i]);
      
      
    });
  }
});

// colourbar
const cb=document.getElementById('colorbar');
const cbX=230, cbY=972, cbW=603, cbH=23, cbStep=cbW/levelColors.length;
levelColors.forEach((c,i)=>{
  const el=mk('rect',{x:cbX+i*cbStep,y:cbY,width:cbStep,height:cbH,fill:c,stroke:'#000','stroke-width':1.5},cb);
  
  
});
colorbarLabels.forEach((lab,i)=>{
  const el=mk('text',{x:cbX+(i+1)*cbStep,y:1023,'font-size':29.5,'text-anchor':'middle'},cb,lab);
  
  
});
</script>
</body>
</html>
